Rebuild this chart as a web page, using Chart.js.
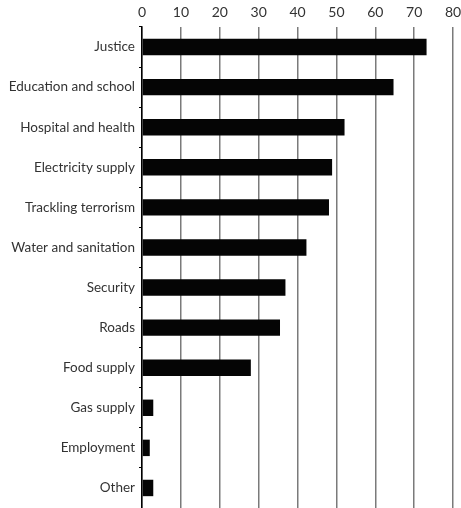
<!DOCTYPE html>
<html lang="en">
<head>
    <meta charset="UTF-8">
    <title>Priorities</title>
    <script src="https://cdn.jsdelivr.net/npm/chart.js"></script>
    <style>
        body { margin: 0; background: #fff; }
        #grafico { display: block; }
    </style>
</head>
<body>
    <canvas id="grafico" width="461" height="508"></canvas>

<script>
    // categorias e valores
    const categorias = ['Justice', 'Education and school', 'Hospital and health', 'Electricity supply',
        'Trackling terrorism', 'Water and sanitation', 'Security', 'Roads', 'Food supply',
        'Gas supply', 'Employment', 'Other'];
    const valores = [73.2, 64.7, 52.1, 48.9, 48.1, 42.3, 36.9, 35.5, 28.0, 2.9, 2.0, 2.9];
    const ticksX = [0, 10, 20, 30, 40, 50, 60, 70, 80];

    new Chart(document.getElementById('grafico'), {
        type: 'bar',
        data: {
            labels: categorias,
            datasets: [{
                data: valores,
                backgroundColor: '#050505',
                borderWidth: 0,
                barPercentage: 0.41,
                categoryPercentage: 1
            }]
        },
        options: {
            indexAxis: 'y',
            responsive: false,
            animation: false,
            layout: { padding: { top: 0, right: 8, bottom: -2, left: 0 } },
            plugins: {
                legend: { display: false },
                tooltip: { enabled: false }
            },
            scales: {
                x: {
                    position: 'top',
                    min: ticksX[0],
                    max: ticksX[ticksX.length - 1],
                    afterBuildTicks: function (axis) {
                        axis.ticks = ticksX.map(v => ({ value: v }));
                    },
                    afterFit: function (axis) {
                        axis.height = 27;
                        axis.paddingLeft = 0;
                        axis.paddingRight = 0;
                    },
                    ticks: { color: '#333', font: { family: 'Lato', size: 14 }, padding: 6 },
                    grid: { color: '#7a7a7a', lineWidth: 1.5, drawTicks: false },
                    border: { display: false }
                },
                y: {
                    afterFit: function (axis) {
                        axis.width = 142;
                        axis.paddingTop = 0;
                        axis.paddingBottom = 0;
                    },
                    ticks: { color: '#333', font: { family: 'Lato', size: 13.5 }, padding: 4 },
                    grid: { drawOnChartArea: false, drawTicks: true, tickLength: 3, color: '#000', offset: true },
                    border: { display: true, color: '#000', width: 1.5 }
                }
            }
        }
    });
</script>
</body>
</html>
